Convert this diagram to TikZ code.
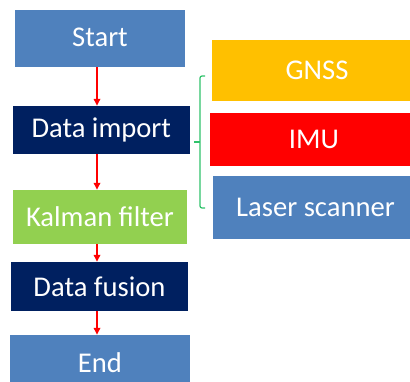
\documentclass[tikz,border=0pt]{standalone}
\usepackage{fontspec}
\setmainfont{Carlito}
\usepackage{xcolor}
\usepackage{tikz}
\usetikzlibrary{arrows.meta}

\definecolor{officeblue}{HTML}{4F81BD}
\definecolor{navy}{HTML}{002060}
\definecolor{lime}{HTML}{92D050}
\definecolor{amber}{HTML}{FFC000}
\definecolor{bracegreen}{HTML}{2FC26A}

\tikzset{
    box/.style={rectangle, inner sep=0pt, text=white, font=\fontsize{28.6}{34}\selectfont},
    flow/.style={-{Triangle[width=6.5pt,length=7pt]}, red, line width=1.6pt},
}

\begin{document}
\begin{tikzpicture}[x=1pt, y=-1pt]
            \useasboundingbox (0,0) rectangle (410,382);
            % Nodes
            \node[box, fill=officeblue, minimum width=170pt, minimum height=57pt, text depth=2pt] (start) at (100,38.5) {Start};
            \node[box, fill=navy, minimum width=177pt, minimum height=48pt] (imp) at (101.3,130) {Data import};
            \node[box, fill=lime, minimum width=174pt, minimum height=54pt] (kal) at (100,217) {Kalman filter};
            \node[box, fill=navy, minimum width=177pt, minimum height=49pt] (fus) at (99.5,286.5) {Data fusion};
            \node[box, fill=officeblue, minimum width=180pt, minimum height=55pt] (end) at (100,362.5) {End};
            \node[box, fill=amber, minimum width=210pt, minimum height=61pt] (gnss) at (317,70.5) {GNSS};
            \node[box, fill=red, minimum width=208pt, minimum height=53pt] (imu) at (314,139.5) {IMU};
            \node[box, fill=officeblue, minimum width=205pt, minimum height=63pt] (laser) at (315.5,207.5) {Laser scanner};

            % Edges
            \draw[flow] ([xshift=-3pt]start.south) -- ([xshift=-4.3pt]imp.north);
            \draw[flow] ([xshift=-4.3pt]imp.south) -- ([xshift=-3pt]kal.north);
            \draw[flow] ([xshift=-3pt]kal.south) -- ([xshift=-2.5pt]fus.north);
            \draw[flow] ([xshift=-2.5pt]fus.south) -- ([xshift=-3pt]end.north);

            % Brace
            \coordinate (btop) at (205,76);
            \coordinate (bbot) at (205,208);
            \coordinate (btip) at (194,142);
            \draw[bracegreen, line width=1.2pt, rounded corners=2pt] (btop) -- (200,76) -- (200,208) -- (bbot);
            \draw[bracegreen, line width=1.2pt] (200,142) -- (btip);
        \end{tikzpicture}
\end{document}
